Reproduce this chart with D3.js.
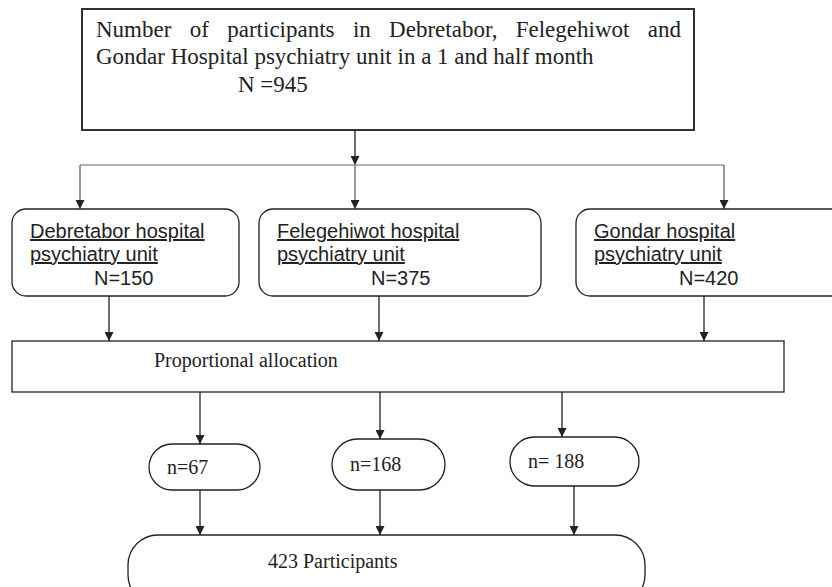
<!DOCTYPE html>
<html>
<head>
<meta charset="utf-8">
<script src="https://cdn.jsdelivr.net/npm/d3@7"></script>
<style>
  body { margin: 0; background: #fff; }
  svg { display: block; }
</style>
</head>
<body>
<div id="chart"></div>
<script>
// flowchart values
const sites = ["Debretabor", "Felegehiwot", "Gondar"];
const siteTotals = [150, 375, 420];
const samples = [67, 168, 188];
const sampleLabels = ["n=67", "n=168", "n= 188"];
const grandTotal = 945;
const sampleTotal = 423;
const titleLine1 = ["Number", "of", "participants", "in", "Debretabor,", "Felegehiwot", "and"];
const titleLine2 = "Gondar Hospital psychiatry unit in a 1 and half month";

const width = 832;
const height = 587;
const serif = "'Liberation Serif', 'Times New Roman', serif";
const sans = "'Liberation Sans', Arial, sans-serif";
const ink = "#222";

// layout (pixels)
const siteX = [12, 259, 576];
const siteW = [227, 282, 270];
const siteY = 209, siteH = 87;
const siteNX = [94, 371, 679];
const dropX = [80, 355, 724];
const toPropX = [109, 379, 704];
const prop = { x: 12, y: 341, w: 772, h: 51 };
const fromPropX = [200, 380, 562];
const pillL = [149, 332, 510];
const pillR = [260, 445, 639];
const pillT = [444, 439, 437];
const pillB = [490, 490, 486];
const pillOutX = [200, 380, 574];
const pillTextX = [167, 350, 528];
const pillTextY = [474, 471, 468];
const finalBox = { x: 128, y: 535, w: 517, h: 70 };

const svg = d3.select("#chart")
  .append("svg")
  .attr("width", width)
  .attr("height", height);

svg.append("defs").append("marker")
  .attr("id", "arrow")
  .attr("markerUnits", "userSpaceOnUse")
  .attr("viewBox", "0 0 10 10")
  .attr("refX", 10)
  .attr("refY", 5)
  .attr("markerWidth", 9)
  .attr("markerHeight", 9)
  .attr("orient", "auto")
  .append("path")
  .attr("d", "M0,0 L10,5 L0,10 Z")
  .attr("fill", ink);

function arrow(x1, y1, x2, y2, color) {
  svg.append("line")
    .attr("x1", x1).attr("y1", y1)
    .attr("x2", x2).attr("y2", y2)
    .attr("stroke", color || ink)
    .attr("stroke-width", 1.3)
    .attr("marker-end", "url(#arrow)");
}

// top box
svg.append("rect")
  .attr("x", 82).attr("y", 9)
  .attr("width", 612).attr("height", 121)
  .attr("fill", "none")
  .attr("stroke", "#333")
  .attr("stroke-width", 2);

// justified first line
const line1 = svg.append("g").attr("font-family", serif).attr("font-size", 23).attr("fill", ink);
const words = line1.selectAll("text")
  .data(titleLine1)
  .join("text")
  .attr("y", 37)
  .text(d => d);
const wl = [];
words.each(function() { wl.push(this.getComputedTextLength()); });
const lineStart = 96, lineEnd = 681;
const gap = (lineEnd - lineStart - d3.sum(wl)) / (wl.length - 1);
let cx = lineStart;
words.attr("x", (d, i) => { const x = cx; cx += wl[i] + gap; return x; });

svg.append("text")
  .attr("x", 96).attr("y", 64)
  .attr("font-family", serif).attr("font-size", 23).attr("fill", ink)
  .text(titleLine2);

svg.append("text")
  .attr("x", 238).attr("y", 92)
  .attr("font-family", serif).attr("font-size", 23).attr("fill", ink)
  .text("N =" + grandTotal);

// split connector
arrow(355, 131, 355, 165);
svg.append("line")
  .attr("x1", dropX[0]).attr("x2", dropX[2])
  .attr("y1", 165).attr("y2", 165)
  .attr("stroke", "#999").attr("stroke-width", 1.3);
dropX.forEach(x => arrow(x, 165, x, siteY, "#666"));

// site boxes
const siteG = svg.selectAll("g.site")
  .data(sites)
  .join("g")
  .attr("class", "site");

siteG.append("rect")
  .attr("x", (d, i) => siteX[i])
  .attr("y", siteY)
  .attr("width", (d, i) => siteW[i])
  .attr("height", siteH)
  .attr("rx", 14)
  .attr("fill", "#fff")
  .attr("stroke", ink)
  .attr("stroke-width", 1.3);

siteG.append("text")
  .attr("x", (d, i) => siteX[i] + 18)
  .attr("y", 238)
  .attr("font-family", sans).attr("font-size", 20).attr("fill", ink)
  .style("text-decoration", "underline")
  .text(d => d + " hospital");

siteG.append("text")
  .attr("x", (d, i) => siteX[i] + 18)
  .attr("y", 261)
  .attr("font-family", sans).attr("font-size", 20).attr("fill", ink)
  .style("text-decoration", "underline")
  .text("psychiatry unit");

siteG.append("text")
  .attr("x", (d, i) => siteNX[i])
  .attr("y", 285)
  .attr("font-family", sans).attr("font-size", 20).attr("fill", ink)
  .text((d, i) => "N=" + siteTotals[i]);

toPropX.forEach(x => arrow(x, siteY + siteH, x, prop.y));

// proportional allocation
svg.append("rect")
  .attr("x", prop.x).attr("y", prop.y)
  .attr("width", prop.w).attr("height", prop.h)
  .attr("fill", "none")
  .attr("stroke", ink)
  .attr("stroke-width", 1.3);

svg.append("text")
  .attr("x", 154).attr("y", 367)
  .attr("font-family", serif).attr("font-size", 20).attr("fill", ink)
  .text("Proportional allocation");

fromPropX.forEach((x, i) => arrow(x, prop.y + prop.h, x, pillT[i]));

// sample pills
const pillG = svg.selectAll("g.pill")
  .data(samples)
  .join("g")
  .attr("class", "pill");

pillG.append("rect")
  .attr("x", (d, i) => pillL[i])
  .attr("y", (d, i) => pillT[i])
  .attr("width", (d, i) => pillR[i] - pillL[i])
  .attr("height", (d, i) => pillB[i] - pillT[i])
  .attr("rx", (d, i) => (pillB[i] - pillT[i]) / 2)
  .attr("fill", "#fff")
  .attr("stroke", ink)
  .attr("stroke-width", 1.3);

pillG.append("text")
  .attr("x", (d, i) => pillTextX[i])
  .attr("y", (d, i) => pillTextY[i])
  .attr("font-family", serif).attr("font-size", 20).attr("fill", ink)
  .text((d, i) => sampleLabels[i]);

pillOutX.forEach((x, i) => arrow(x, pillB[i], x, finalBox.y));

// final box
svg.append("rect")
  .attr("x", finalBox.x).attr("y", finalBox.y)
  .attr("width", finalBox.w).attr("height", finalBox.h)
  .attr("rx", 30)
  .attr("fill", "none")
  .attr("stroke", ink)
  .attr("stroke-width", 1.3);

svg.append("text")
  .attr("x", 268).attr("y", 568)
  .attr("font-family", serif).attr("font-size", 20).attr("fill", ink)
  .text(sampleTotal + " Participants");
</script>
</body>
</html>
